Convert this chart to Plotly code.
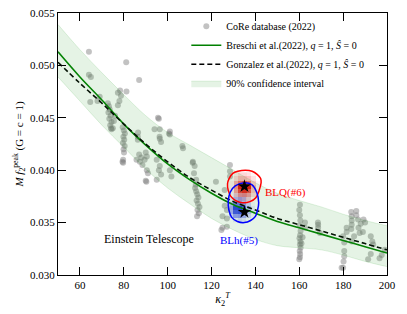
import plotly.graph_objects as go

# ---------------- data ----------------
core_x = [64.1, 81.1, 87.0, 64.1, 65.0, 77.3, 78.3, 81.2, 78.7, 78.0, 77.3, 69.0, 68.0, 64.7,
          72.7, 73.2, 73.6, 73.0, 74.0, 73.4, 74.4, 73.8, 74.2, 75.5, 76.0,
          79.5, 80.0, 80.5, 79.8, 80.2, 79.6, 80.4, 79.9, 80.1,
          86.4, 86.4, 86.5, 96.0, 94.0, 96.3, 97.0, 96.4, 96.4, 95.6,
          90.0, 90.5, 101.0, 100.6, 101.0, 106.7, 107.0,
          95.0, 96.4, 96.0, 97.0, 95.0, 101.0, 101.7, 111.5, 112.3, 122.0,
          112.5, 113.0, 113.5, 114.0, 113.2, 113.8, 114.5, 113.6, 114.2, 113.4, 112.8, 111.4, 112.0, 113.0,
          126.0, 126.0, 125.0, 128.4, 128.4, 128.4, 127.0, 127.0, 127.0, 125.0, 124.5,
          79.7, 79.7, 79.4, 85.8, 87.0, 88.0, 89.5, 88.5, 87.3, 90.3, 90.0, 90.5, 91.0, 75.0, 74.4,
          160.3, 160.0, 160.3, 160.5, 160.2, 160.6, 160.4, 160.1, 160.5, 160.3, 160.6, 160.2, 160.4, 160.3, 160.0,
          162.6, 162.6, 161.5, 161.0, 168.6, 168.6, 168.5, 169.4,
          183.7, 183.9, 183.9, 183.9, 183.7, 186.0, 186.8, 188.0, 187.0, 189.0, 189.3, 187.5, 186.0,
          192.6, 193.3, 191.4, 192.6, 196.6, 199.0, 193.7, 197.6, 185.0, 184.0, 190.0,
          180.0, 180.5, 180.5, 180.5, 180.2, 180.0, 181.6, 181.6, 179.3]
core_y = [0.0513, 0.0503, 0.0486, 0.0491, 0.0489, 0.0474, 0.0476, 0.0475, 0.0471, 0.0466, 0.0462, 0.0470, 0.0466, 0.0465,
          0.0464, 0.0461, 0.0458, 0.0455, 0.0452, 0.0449, 0.0446, 0.0443, 0.0440, 0.0447, 0.0452,
          0.0441, 0.0438, 0.0435, 0.0432, 0.0429, 0.0426, 0.0423, 0.0420, 0.0417,
          0.0432, 0.0429, 0.0436, 0.0449, 0.0439, 0.0432, 0.0427, 0.0439, 0.0430, 0.0450,
          0.0417, 0.0413, 0.0437, 0.0435, 0.0434, 0.0423, 0.0421,
          0.0410, 0.0404, 0.0400, 0.0396, 0.0391, 0.0400, 0.0394, 0.0408, 0.0404, 0.0389,
          0.0383, 0.0380, 0.0377, 0.0374, 0.0371, 0.0368, 0.0365, 0.0362, 0.0359, 0.0356, 0.0386, 0.0407, 0.0397, 0.0391,
          0.0381, 0.0366, 0.0356, 0.0405, 0.0399, 0.0394, 0.0362, 0.0354, 0.0346, 0.0345, 0.0343,
          0.0410, 0.0407, 0.0408, 0.0410, 0.0415, 0.0412, 0.0410, 0.0405, 0.0408, 0.0389, 0.0390, 0.0400, 0.0397, 0.0440, 0.0439,
          0.0367, 0.0362, 0.0357, 0.0352, 0.0347, 0.0342, 0.0338, 0.0335, 0.0332, 0.0329, 0.0326, 0.0323, 0.0320, 0.0317, 0.0315,
          0.0350, 0.0345, 0.0336, 0.0330, 0.0348, 0.0345, 0.0350, 0.0340,
          0.0360, 0.0356, 0.0352, 0.0348, 0.0344, 0.0357, 0.0353, 0.0349, 0.0345, 0.0341, 0.0353, 0.0340, 0.0361,
          0.0337, 0.0332, 0.0315, 0.0320, 0.0316, 0.0324, 0.0329, 0.0319, 0.0337, 0.0332, 0.0350,
          0.0337, 0.0331, 0.0323, 0.0318, 0.0313, 0.0307, 0.0345, 0.0341, 0.0307]

curve_x = [50, 60, 70, 80, 90, 100, 110, 120, 130, 140, 150, 160, 170, 180, 190, 200]
breschi_y = [0.0513, 0.0489, 0.0467, 0.0444, 0.0424, 0.0406, 0.0391, 0.0378, 0.0367, 0.0359,
             0.0351, 0.0345, 0.0339, 0.0333, 0.0327, 0.0321]
gonzalez_y = [0.0503, 0.0483, 0.0464, 0.0444, 0.0425, 0.0408, 0.0393, 0.0381, 0.0370, 0.0362,
              0.0354, 0.0348, 0.0342, 0.0336, 0.0330, 0.0324]
band_upper = [0.0539, 0.0515, 0.0493, 0.0472, 0.0452, 0.0436, 0.0424, 0.0412, 0.0400, 0.0388,
              0.0378, 0.0371, 0.0365, 0.0358, 0.0352, 0.0347]
band_lower = [0.0489, 0.0466, 0.0443, 0.0422, 0.0401, 0.0383, 0.0368, 0.0354, 0.0343, 0.0334,
              0.0328, 0.0326, 0.0324, 0.0319, 0.0313, 0.0308]

# posterior densities (BLQ red, BLh blue)
blq_hx = [129, 131, 133, 135, 137, 139, 141]
blq_hy = [0.0372, 0.0376, 0.0380, 0.0384, 0.0388, 0.0392, 0.0396]
blq_hz = [[0.00, 0.10, 0.25, 0.25, 0.20, 0.05, 0.00],
          [0.05, 0.25, 0.50, 0.55, 0.45, 0.20, 0.00],
          [0.10, 0.45, 0.80, 0.90, 0.75, 0.30, 0.05],
          [0.10, 0.50, 0.95, 1.00, 0.95, 0.35, 0.05],
          [0.10, 0.40, 0.65, 0.75, 0.60, 0.25, 0.05],
          [0.05, 0.20, 0.35, 0.35, 0.30, 0.15, 0.00],
          [0.00, 0.10, 0.20, 0.20, 0.15, 0.05, 0.00]]
blh_hx = [129, 131, 133, 135, 137, 139]
blh_hy = [0.0352, 0.0356, 0.0360, 0.0364, 0.0368, 0.0372, 0.0376]
blh_hz = [[0.00, 0.10, 0.20, 0.15, 0.05, 0.00],
          [0.20, 0.50, 0.55, 0.45, 0.20, 0.05],
          [0.40, 0.85, 0.90, 0.75, 0.35, 0.10],
          [0.45, 0.95, 1.00, 0.80, 0.35, 0.10],
          [0.35, 0.70, 0.70, 0.55, 0.25, 0.05],
          [0.10, 0.35, 0.40, 0.30, 0.10, 0.00],
          [0.00, 0.10, 0.10, 0.10, 0.05, 0.00]]

blq_cx = [127.3, 128.0, 129.7, 132.0, 135.5, 138.5, 140.8, 142.4, 142.6, 141.6, 140.3, 137.5, 134.0, 131.0, 128.8, 127.6, 127.3]
blq_cy = [0.0387, 0.0392, 0.0397, 0.0399, 0.0400, 0.0399, 0.0396, 0.0392, 0.0388, 0.0380, 0.0374, 0.0370, 0.0369, 0.0371, 0.0375, 0.0381, 0.0387]
blh_cx = [127.6, 128.5, 130.8, 135.0, 138.5, 140.6, 141.5, 141.0, 140.0, 137.8, 135.0, 131.8, 129.2, 127.9, 127.6]
blh_cy = [0.0370, 0.0379, 0.0385, 0.0388, 0.0386, 0.0379, 0.0369, 0.0362, 0.0356, 0.0352, 0.0350, 0.0351, 0.0355, 0.0362, 0.0370]

star_x = [135.0, 135.0]
star_y = [0.03846, 0.0360]

x_ticks = [60, 80, 100, 120, 140, 160, 180, 200]
y_ticks = [0.030, 0.035, 0.040, 0.045, 0.050, 0.055]

FONT = "Liberation Serif"

fig = go.Figure()

fig.add_trace(go.Scatter(x=core_x, y=core_y, mode="markers", name="CoRe database (2022)",
                         marker=dict(size=6, color="rgba(120,120,120,0.45)", line=dict(width=0))))
fig.add_trace(go.Scatter(x=curve_x, y=breschi_y, mode="lines", line=dict(color="#008000", width=1.6, shape="spline"),
                         name="Breschi et al.(2022), <i>q</i> = 1, <i>Ŝ</i> = 0"))
fig.add_trace(go.Scatter(x=curve_x, y=gonzalez_y, mode="lines", line=dict(color="black", width=1.6, dash="5px,3px", shape="spline"),
                         name="Gonzalez et al.(2022), <i>q</i> = 1, <i>Ŝ</i> = 0"))
fig.add_trace(go.Scatter(x=curve_x, y=band_lower, mode="lines", line=dict(color="rgba(44,160,44,0.18)", width=0.8, shape="spline"),
                         showlegend=False, hoverinfo="skip"))
fig.add_trace(go.Scatter(x=curve_x, y=band_upper, mode="lines", fill="tonexty", fillcolor="rgba(44,160,44,0.12)",
                         line=dict(color="rgba(44,160,44,0.18)", width=0.8, shape="spline"),
                         name="90% confidence interval"))

fig.add_trace(go.Heatmap(x=blq_hx, y=blq_hy, z=blq_hz, showscale=False, hoverinfo="skip", zmin=0, zmax=1,
                         colorscale=[[0, "rgba(255,60,60,0)"], [1, "rgba(230,0,0,1)"]]))
fig.add_trace(go.Heatmap(x=blh_hx, y=blh_hy, z=blh_hz, showscale=False, hoverinfo="skip", zmin=0, zmax=1,
                         colorscale=[[0, "rgba(60,60,255,0)"], [1, "rgba(30,50,230,1)"]]))
fig.add_trace(go.Scatter(x=blq_cx, y=blq_cy, mode="lines", line=dict(color="red", width=1.5, shape="spline"),
                         showlegend=False, hoverinfo="skip"))
fig.add_trace(go.Scatter(x=blh_cx, y=blh_cy, mode="lines", line=dict(color="blue", width=1.5, shape="spline"),
                         showlegend=False, hoverinfo="skip"))
fig.add_trace(go.Scatter(x=star_x, y=star_y, mode="markers", marker=dict(symbol="star", size=10, color="black"),
                         showlegend=False, hoverinfo="skip"))

fig.add_annotation(x=143.5, y=0.0379, text="BLQ(#6)", showarrow=False, xanchor="left",
                   font=dict(family=FONT, size=11, color="red"))
fig.add_annotation(x=132.3, y=0.0333, text="BLh(#5)", showarrow=False, xanchor="center",
                   font=dict(family=FONT, size=11, color="blue"))
fig.add_annotation(x=91.6, y=0.0334, text="Einstein Telescope", showarrow=False, xanchor="center",
                   font=dict(family=FONT, size=12, color="black"))

axis_common = dict(showline=True, linecolor="black", linewidth=1, mirror="ticks", ticks="inside",
                   ticklen=8, tickcolor="black", showgrid=False, zeroline=False, automargin=False,
                   tickfont=dict(family=FONT, size=11, color="black"))

fig.update_layout(
    width=407, height=314,
    margin=dict(l=58, r=20, t=13, b=39),
    plot_bgcolor="white", paper_bgcolor="white",
    font=dict(family=FONT, color="black"),
    xaxis=dict(range=[50, 200], tickvals=x_ticks, ticktext=[str(v) for v in x_ticks],
               title=dict(text="<i>κ</i><sub>2</sub><sup><i>T</i></sup>", font=dict(family=FONT, size=12), standoff=2),
               **axis_common),
    yaxis=dict(range=[0.030, 0.055], tickvals=y_ticks, ticktext=[f"{v:.3f}" for v in y_ticks],
               title=dict(text="<i>M f</i><sub>2</sub><sup>peak</sup> (G = c = 1)", font=dict(family=FONT, size=11), standoff=4),
               **axis_common),
    legend=dict(x=0.39, y=1.005, xanchor="left", yanchor="top", bgcolor="rgba(0,0,0,0)", traceorder="normal",
                font=dict(family=FONT, size=10), itemwidth=30, tracegroupgap=0),
    showlegend=True,
)

fig.write_html("out.html", config={"displayModeBar": False},
               post_script="document.body.style.margin='0';document.body.style.overflow='hidden';")
